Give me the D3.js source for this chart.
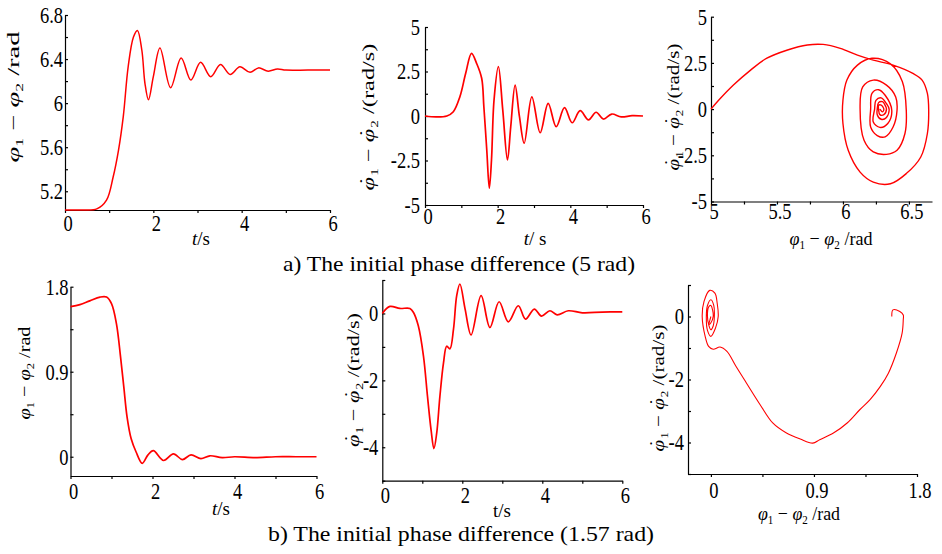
<!DOCTYPE html>
<html>
<head>
<meta charset="utf-8">
<script src="https://cdn.jsdelivr.net/npm/d3@7"></script>
<style>
  body { margin: 0; background: #fff; }
</style>
</head>
<body>
<svg id="chart" width="942" height="554"></svg>
<script>
// ---- a) initial phase difference 5 rad ----
const aPhaseT = [0, 0.4, 0.72, 0.94, 1.09, 1.21, 1.32, 1.43, 1.55, 1.64, 1.74, 1.81, 1.89, 2.0, 2.15, 2.39, 2.63, 2.85, 3.07, 3.30, 3.52, 3.74, 3.96, 4.19, 4.38, 4.60, 4.81, 5.0, 5.5, 6.0];
const aPhase = [5.03, 5.03, 5.04, 5.12, 5.33, 5.57, 5.88, 6.33, 6.60, 6.66, 6.48, 6.18, 6.03, 6.24, 6.50, 6.14, 6.41, 6.21, 6.37, 6.24, 6.35, 6.26, 6.33, 6.28, 6.32, 6.29, 6.31, 6.30, 6.30, 6.30];

const aRateT = [0, 0.3, 0.6, 0.78, 0.96, 1.12, 1.28, 1.42, 1.56, 1.62, 1.70, 1.77, 1.83, 1.90, 2.02, 2.14, 2.27, 2.36, 2.48, 2.60, 2.73, 2.94, 3.17, 3.39, 3.61, 3.84, 4.05, 4.27, 4.50, 4.71, 4.91, 5.14, 5.4, 5.7, 6.0];
const aRate = [0, -0.05, 0, 0.24, 1.08, 2.4, 3.52, 2.96, 2.12, 0.52, -1.91, -4.06, -2.47, 0.9, 2.77, 0.34, -2.47, -0.6, 1.74, -0.04, -1.53, 1.08, -0.94, 0.71, -0.6, 0.47, -0.38, 0.30, -0.22, 0.21, -0.17, 0.11, -0.05, 0.02, 0];

const aPortraitX = [5.00, 5.07, 5.17, 5.30, 5.42, 5.58, 5.73, 5.85, 5.98, 6.11, 6.23, 6.38, 6.53, 6.60, 6.64, 6.65, 6.64, 6.59, 6.48, 6.36, 6.23, 6.13, 6.04, 6.00, 6.00, 6.03, 6.11, 6.22, 6.36, 6.45, 6.48, 6.47, 6.41, 6.33, 6.23, 6.16, 6.13, 6.15, 6.23, 6.33, 6.40, 6.41, 6.38, 6.32, 6.26, 6.21, 6.21, 6.22, 6.27, 6.32, 6.37, 6.34, 6.28, 6.23, 6.24, 6.25, 6.29, 6.33, 6.35, 6.33, 6.29, 6.26, 6.26, 6.27, 6.30, 6.32, 6.33, 6.31, 6.28, 6.27, 6.27, 6.29, 6.31, 6.30, 6.28];
const aPortraitY = [0, 0.57, 1.30, 2.11, 2.74, 3.20, 3.47, 3.50, 3.29, 2.92, 2.65, 2.38, 1.93, 1.57, 0.85, -0.06, -1.32, -2.59, -3.49, -4.04, -3.95, -3.41, -2.23, -0.78, 0.48, 1.57, 2.38, 2.75, 2.45, 1.5, -0.06, -1.32, -2.23, -2.45, -2.32, -1.69, 0, 1.2, 1.57, 1.3, 0.66, -0.06, -0.97, -1.5, -1.43, -0.97, 0, 0.85, 1.05, 0.75, -0.06, -0.78, -0.99, -0.7, 0, 0.47, 0.61, 0.29, 0, -0.45, -0.55, -0.3, 0, 0.35, 0.4, 0.2, 0, -0.3, -0.3, 0, 0.2, 0.22, 0, -0.15, 0];

// ---- b) initial phase difference 1.57 rad ----
const bPhaseT = [0, 0.23, 0.47, 0.72, 0.88, 1.0, 1.12, 1.22, 1.30, 1.38, 1.48, 1.60, 1.75, 1.89, 2.02, 2.27, 2.51, 2.73, 2.94, 3.18, 3.40, 3.7, 4.0, 4.5, 5.0, 5.5, 6.0];
const bPhase = [1.59, 1.61, 1.65, 1.69, 1.69, 1.62, 1.41, 1.06, 0.74, 0.42, 0.19, 0.05, -0.07, 0.02, 0.064, -0.04, 0.03, -0.03, 0.02, -0.02, 0.01, -0.01, 0, -0.01, 0, 0, 0];

const bRateT = [0, 0.19, 0.44, 0.69, 0.78, 0.90, 1.03, 1.13, 1.22, 1.29, 1.36, 1.44, 1.53, 1.61, 1.69, 1.78, 1.86, 1.94, 2.07, 2.22, 2.47, 2.69, 2.92, 3.15, 3.40, 3.58, 3.80, 3.98, 4.19, 4.37, 4.65, 5.0, 5.5, 6.0];
const bRate = [0, 0.21, 0.15, 0.15, 0.03, -0.37, -1.28, -2.48, -3.49, -4.04, -3.58, -2.48, -1.48, -0.98, -1.06, -0.47, 0.53, 0.88, 0.13, -0.64, 0.53, -0.42, 0.35, -0.25, 0.23, -0.17, 0.13, -0.08, 0.08, -0.04, 0.08, 0.02, 0.04, 0.05];

const bPortraitX = [1.58, 1.59, 1.65, 1.68, 1.68, 1.67, 1.62, 1.55, 1.48, 1.39, 1.30, 1.19, 1.07, 0.95, 0.89, 0.78, 0.66, 0.54, 0.43, 0.31, 0.22, 0.14, 0.08, 0.02, -0.02, -0.05, -0.076, -0.06, -0.01, 0.035, 0.055, 0.064, 0.04, 0, -0.03, -0.04, -0.03, 0, 0.025, 0.03, 0.02, 0, -0.02, -0.03, -0.02, 0, 0.015, 0.02, 0, -0.015, 0];
const bPortraitY = [0, 0.21, 0.16, 0.05, -0.1, -0.53, -1.16, -1.8, -2.22, -2.64, -2.96, -3.38, -3.70, -3.91, -4.02, -3.89, -3.70, -3.38, -2.80, -2.11, -1.59, -1.11, -0.97, -1.04, -0.95, -0.63, 0, 0.48, 0.83, 0.74, 0.42, 0, -0.37, -0.63, -0.44, 0, 0.35, 0.53, 0.35, 0, -0.3, -0.42, -0.25, 0, 0.3, 0.35, 0.2, 0, -0.2, -0.25, 0];

// tick values / labels
const timeTicks = [0, 1, 2, 3, 4, 5, 6];
const timeLabels = [0, 2, 4, 6];
const aPhaseTicks = [5.2, 5.4, 5.6, 5.8, 6, 6.2, 6.4, 6.6, 6.8];
const aPhaseLabels = [5.2, 5.6, 6, 6.4, 6.8];
const aRateTicks = [-5, -3.75, -2.5, -1.25, 0, 1.25, 2.5, 3.75, 5];
const aRateLabels = [-5, -2.5, 0, 2.5, 5];
const aPortraitTicks = [5, 5.25, 5.5, 5.75, 6, 6.25, 6.5];
const aPortraitLabels = [5, 5.5, 6, 6.5];
const bPhaseTicks = [0, 0.45, 0.9, 1.35, 1.8];
const bPhaseLabels = [0, 0.9, 1.8];
const bRateTicks = [-5, -4, -3, -2, -1, 0, 1];
const bRateLabels = [-4, -2, 0];
const bPortraitTicks = [0, 0.45, 0.9, 1.35, 1.8];
const bPortraitLabels = [0, 0.9, 1.8];

const captions = ['a) The initial phase difference (5 rad)', 'b) The initial phase difference (1.57 rad)'];

const svg = d3.select('#chart');
const RED = '#ff0000';
const FONT = '"Liberation Serif"';

const thetaLabel = [{ t: 'φ', i: 1 }, { t: '1', sub: 1 }, { t: ' − ' }, { t: 'φ', i: 1 }, { t: '2', sub: 1 }, { t: ' /rad' }];
const omegaLabel = [
  { t: 'φ', i: 1 }, { t: '˙', dx: -6, off: -3 }, { t: '1', sub: 1, dx: 1 }, { t: ' − ' },
  { t: 'φ', i: 1 }, { t: '˙', dx: -6, off: -3 }, { t: '2', sub: 1, dx: 1 }, { t: ' /(rad/s)' }
];

// writes math-like text parts (italic symbols, subscripts, dots) into a text element
function mathText(sel, parts) {
  let cur = 0;
  parts.forEach(p => {
    const ts = sel.append('tspan').text(p.t);
    if (p.i) ts.attr('font-style', 'italic');
    let off = p.off || 0;
    if (p.sub) { ts.attr('font-size', '0.62em'); off = 4; }
    if (off !== cur) { ts.attr('dy', off - cur); cur = off; }
    if (p.dx) ts.attr('dx', p.dx);
  });
}

function panel(o) {
  const x = d3.scaleLinear().domain(o.xDomain).range(o.xRange);
  const y = d3.scaleLinear().domain(o.yDomain).range(o.yRange);
  const g = svg.append('g');

  g.append('g')
    .attr('transform', `translate(0,${o.yRange[0]})`)
    .call(d3.axisBottom(x).tickValues(o.xTicks).tickSize(3).tickSizeOuter(0).tickFormat(() => ''));
  g.append('g')
    .attr('transform', `translate(${o.xRange[0]},0)`)
    .call(d3.axisLeft(y).tickValues(o.yTicks).tickSize(-3).tickSizeOuter(0).tickFormat(() => ''));
  g.selectAll('.domain, .tick line').attr('stroke', '#000').attr('stroke-width', 1.2);

  // tick labels
  g.selectAll('text.xl').data(o.xLabels).join('text')
    .attr('class', 'xl')
    .attr('transform', d => `translate(${x(d) + 3},${o.xLabelY}) scale(1,1.22)`)
    .attr('text-anchor', 'middle')
    .attr('font-family', FONT)
    .attr('font-size', 18.5)
    .text(d => String(d));
  g.selectAll('text.yl').data(o.yLabels).join('text')
    .attr('class', 'yl')
    .attr('transform', d => `translate(${o.xRange[0] - o.yGap},${y(d)}) scale(1,1.22)`)
    .attr('text-anchor', 'end')
    .attr('dy', '0.35em')
    .attr('font-family', FONT)
    .attr('font-size', 18.5)
    .text(d => String(d));

  // axis titles
  const xt = g.append('text')
    .attr('transform', `translate(${o.xTitle.x},${o.xTitle.y})`)
    .attr('text-anchor', 'middle')
    .attr('font-family', FONT)
    .attr('font-size', 19);
  if (o.xTitle.len) xt.attr('textLength', o.xTitle.len).attr('lengthAdjust', 'spacingAndGlyphs');
  mathText(xt, o.xTitle.parts);

  const yt = g.append('text')
    .attr('transform', `translate(${o.yTitle.x},${o.yTitle.y}) rotate(-90)`)
    .attr('text-anchor', 'middle')
    .attr('font-family', FONT)
    .attr('font-size', 17.5)
    .attr('textLength', o.yTitle.len)
    .attr('lengthAdjust', 'spacingAndGlyphs');
  mathText(yt, o.yTitle.parts);

  const line = d3.line()
    .x((d, i) => x(o.xs[i]))
    .y((d, i) => y(o.ys[i]))
    .curve(d3.curveCatmullRom.alpha(0.5));
  g.append('path')
    .datum(o.xs)
    .attr('d', line)
    .attr('fill', 'none')
    .attr('stroke', RED)
    .attr('stroke-width', o.lw)
    .attr('stroke-linejoin', 'round');
}

// top row
panel({
  xDomain: [0, 6], xRange: [65, 330], yDomain: [5.03, 6.8], yRange: [210, 15],
  xTicks: timeTicks, xLabels: timeLabels, yTicks: aPhaseTicks, yLabels: aPhaseLabels,
  xLabelY: 231, yGap: 2, xs: aPhaseT, ys: aPhase, lw: 1.5,
  xTitle: { x: 201, y: 245, parts: [{ t: 't', i: 1 }, { t: '/s' }] },
  yTitle: { x: 19, y: 97, len: 131, parts: thetaLabel }
});
panel({
  xDomain: [0, 6], xRange: [425, 643], yDomain: [-5, 5], yRange: [205, 27],
  xTicks: timeTicks, xLabels: timeLabels, yTicks: aRateTicks, yLabels: aRateLabels,
  xLabelY: 224, yGap: 5, xs: aRateT, ys: aRate, lw: 1.7,
  xTitle: { x: 535, y: 245, parts: [{ t: 't', i: 1 }, { t: '/ s' }] },
  yTitle: { x: 374, y: 117, len: 147, parts: omegaLabel }
});
panel({
  xDomain: [5, 6.675], xRange: [711, 932], yDomain: [-5, 5], yRange: [201.5, 16.7],
  xTicks: aPortraitTicks, xLabels: aPortraitLabels, yTicks: aRateTicks, yLabels: aRateLabels,
  xLabelY: 219, yGap: 4, xs: aPortraitX, ys: aPortraitY, lw: 1.4,
  xTitle: { x: 831, y: 245, len: 83, parts: thetaLabel },
  yTitle: { x: 679, y: 107, len: 127, parts: omegaLabel }
});

// bottom row
panel({
  xDomain: [0, 6], xRange: [70.5, 316.5], yDomain: [-0.204, 1.8], yRange: [476, 286.7],
  xTicks: timeTicks, xLabels: timeLabels, yTicks: bPhaseTicks, yLabels: bPhaseLabels,
  xLabelY: 499, yGap: 2, xs: bPhaseT, ys: bPhase, lw: 1.7,
  xTitle: { x: 221, y: 515, parts: [{ t: 't', i: 1 }, { t: '/s' }] },
  yTitle: { x: 30, y: 373, len: 93, parts: thetaLabel }
});
panel({
  xDomain: [0, 6], xRange: [382.3, 622.3], yDomain: [-5, 1], yRange: [480.7, 280],
  xTicks: timeTicks, xLabels: timeLabels, yTicks: bRateTicks, yLabels: bRateLabels,
  xLabelY: 503, yGap: 4, xs: bRateT, ys: bRate, lw: 1.7,
  xTitle: { x: 502, y: 517, parts: [{ t: 't/s' }] },
  yTitle: { x: 359, y: 380, len: 134, parts: omegaLabel }
});
panel({
  xDomain: [-0.2, 1.8], xRange: [688, 917], yDomain: [-5, 1], yRange: [474, 285],
  xTicks: bPortraitTicks, xLabels: bPortraitLabels, yTicks: bRateTicks, yLabels: bRateLabels,
  xLabelY: 498, yGap: 4, xs: bPortraitX, ys: bPortraitY, lw: 1.1,
  xTitle: { x: 799, y: 520, len: 82, parts: thetaLabel },
  yTitle: { x: 664, y: 388, len: 127, parts: omegaLabel }
});

// captions
svg.selectAll('text.cap').data(captions).join('text')
  .attr('class', 'cap')
  .attr('x', (d, i) => [459, 461][i])
  .attr('y', (d, i) => [271, 541][i])
  .attr('text-anchor', 'middle')
  .attr('font-family', FONT)
  .attr('font-size', 22)
  .attr('textLength', (d, i) => [352, 386][i])
  .attr('lengthAdjust', 'spacingAndGlyphs')
  .text(d => d);
</script>
</body>
</html>
